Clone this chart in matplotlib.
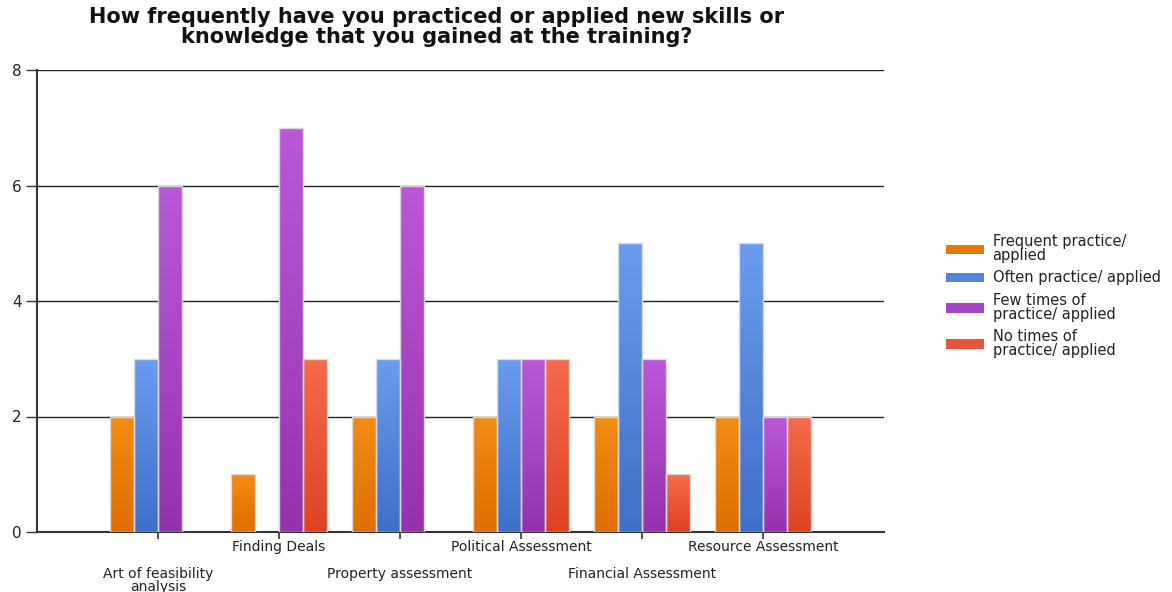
import numpy as np
import matplotlib
matplotlib.use("Agg")
import matplotlib.pyplot as plt
from matplotlib.colors import LinearSegmentedColormap

categories = [
    "Art of feasibility\nanalysis",
    "Finding Deals",
    "Property assessment",
    "Political Assessment",
    "Financial Assessment",
    "Resource Assessment",
]
series_names = [
    "Frequent practice/\napplied",
    "Often practice/ applied",
    "Few times of\npractice/ applied",
    "No times of\npractice/ applied",
]
frequent = [2, 1, 2, 2, 2, 2]
often = [3, 0, 3, 3, 5, 5]
few_times = [6, 7, 6, 3, 3, 2]
no_times = [0, 3, 0, 3, 1, 2]
y_ticks = [0, 2, 4, 6, 8]

series = [frequent, often, few_times, no_times]
# (top, bottom) shades for each series' vertical gradient
shades = [
    ("#F28C14", "#DE6E00"),
    ("#6C9CEE", "#3F6FC6"),
    ("#BA58D8", "#9432AE"),
    ("#F56C4C", "#DC4222"),
]
flat = ["#E8770A", "#5585DC", "#A644C4", "#E8553A"]

fig = plt.figure(figsize=(11.72, 5.92), dpi=100)
ax = fig.add_axes([37 / 1172, 1 - 532 / 592, (884 - 37) / 1172, (532 - 70) / 592])

n_cat = len(categories)
x = np.arange(1, n_cat + 1)
bar_w = 0.2
offsets = (np.arange(len(series)) - 1.5) * bar_w

grad = np.linspace(0, 1, 256).reshape(-1, 1)
for vals, off, (top, bot), fc, name in zip(series, offsets, shades, flat, series_names):
    bars = ax.bar(x + off, vals, width=bar_w, color=fc, edgecolor="none",
                  linewidth=0, label=name, zorder=3)
    cmap = LinearSegmentedColormap.from_list("g", [bot, top])
    for b in bars:
        h = b.get_height()
        if h <= 0:
            continue
        x0 = b.get_x()
        w = b.get_width()
        im = ax.imshow(grad, cmap=cmap, aspect="auto", origin="lower",
                       extent=(x0, x0 + w, 0, h), zorder=3.5, interpolation="bilinear")
        im.set_clip_path(b)
        ax.add_patch(plt.Rectangle((x0, 0), w, h, fill=False,
                                   edgecolor="#d9d9d9", linewidth=1.0, zorder=4))

ax.set_xlim(0, n_cat + 1)
ax.set_ylim(0, 8)
ax.set_yticks(y_ticks)
ax.set_yticklabels([str(v) for v in y_ticks], fontsize=11, color="#222222")
ax.set_xticks(x)
ax.set_xticklabels([])
ax.tick_params(axis="x", length=5, width=1.2, color="#333333", direction="out")
ax.tick_params(axis="y", length=8, width=1.0, color="#333333", pad=3)
ax.yaxis.grid(True, color="#222222", linewidth=1.0, zorder=1)
ax.set_axisbelow(True)
for side in ("top", "right"):
    ax.spines[side].set_visible(False)
ax.spines["left"].set_color("#333333")
ax.spines["left"].set_linewidth(1.5)
ax.spines["bottom"].set_color("#333333")
ax.spines["bottom"].set_linewidth(1.5)

# staggered category labels: alternate rows below the axis
for i, (xi, lab) in enumerate(zip(x, categories)):
    dy = -6 if i % 2 == 1 else -25
    ax.annotate(lab, xy=(xi, 0), xycoords="data", xytext=(0, dy),
                textcoords="offset points", ha="center", va="top",
                fontsize=10, color="#222222", linespacing=0.9)

fig.text(437 / 1172, 1 - 27 / 592,
         "How frequently have you practiced or applied new skills or\n"
         "knowledge that you gained at the training?",
         ha="center", va="center", fontsize=15, fontweight="bold",
         color="#111111", linespacing=1.05)

handles, labels = ax.get_legend_handles_labels()
leg = fig.legend(handles, labels, loc="center left",
                 bbox_to_anchor=(940 / 1172, 1 - 296 / 592), frameon=False,
                 fontsize=10.5, handlelength=2.6, handleheight=0.6,
                 labelspacing=0.5, handletextpad=0.6, borderaxespad=0)
for t in leg.get_texts():
    t.set_color("#222222")
    t.set_linespacing(0.9)

fig.savefig("out.png", dpi=100)
